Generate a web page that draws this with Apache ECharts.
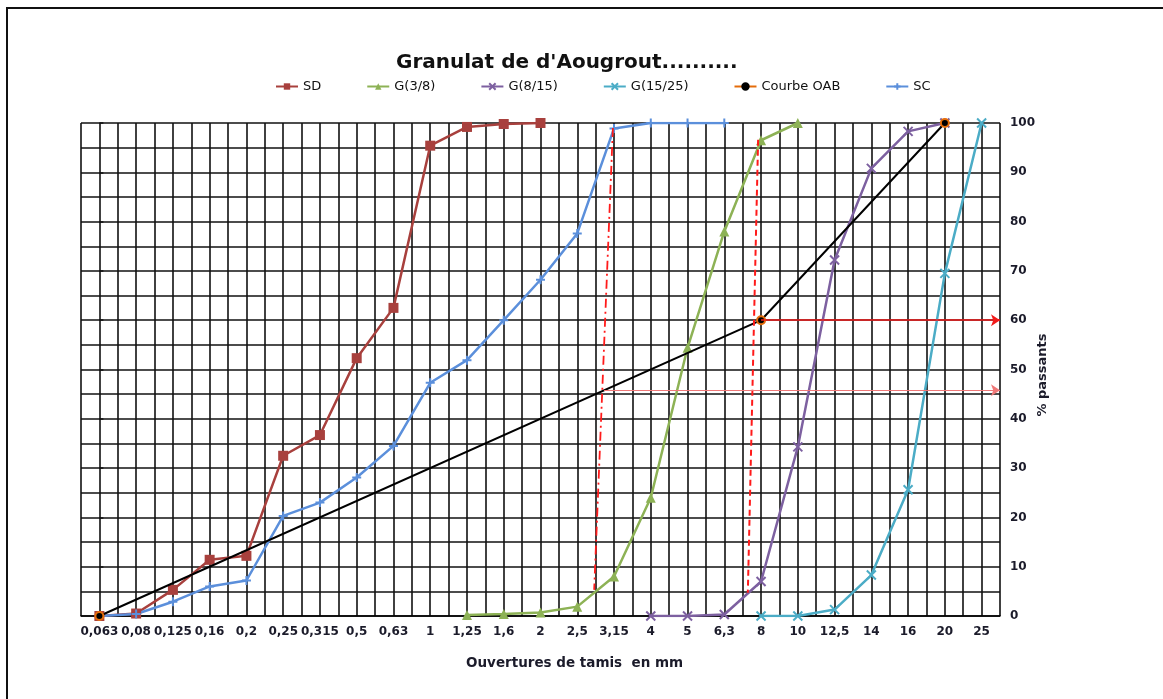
<!DOCTYPE html>
<html>
<head>
<meta charset="utf-8">
<script src="https://cdn.jsdelivr.net/npm/echarts@6/dist/echarts.min.js"></script>
<style>
  html, body { margin: 0; padding: 0; background: #fff; }
  #chart { width: 1163px; height: 699px; }
</style>
</head>
<body>
<div id="chart"></div>
<script>
// Sieve openings (mm), one category per sieve
const sieves = ['0,063','0,08','0,125','0,16','0,2','0,25','0,315','0,5','0,63','1','1,25','1,6','2','2,5','3,15','4','5','6,3','8','10','12,5','14','16','20','25'];

// % passing for each aggregate, aligned on the sieves above
const sd     = [0, 0.5, 5.3, 11.4, 12.2, 32.5, 36.7, 52.3, 62.5, 95.4, 99.2, 99.8, 100, null, null, null, null, null, null, null, null, null, null, null, null];
const g38    = [null, null, null, null, null, null, null, null, null, null, 0.2, 0.4, 0.7, 1.9, 8.0, 24.0, 54.4, 78.0, 96.5, 100, null, null, null, null, null];
const g815   = [null, null, null, null, null, null, null, null, null, null, null, null, null, null, null, 0, 0, 0.3, 7.0, 34.3, 72.2, 90.8, 98.3, 100, null];
const g1525  = [null, null, null, null, null, null, null, null, null, null, null, null, null, null, null, null, null, null, 0, 0, 1.3, 8.3, 25.6, 69.5, 100];
const courbeOAB = [0, null, null, null, null, null, null, null, null, null, null, null, null, null, null, null, null, null, 60, null, null, null, null, 100, null];
const sc     = [0, 0.4, 2.9, 6.0, 7.2, 20.3, 23.0, 28.1, 34.5, 47.3, 51.9, 60.0, 68.2, 77.6, 98.9, 100, 100, 100, null, null, null, null, null, null, null];

// Construction lines, in sieve-index units (x) and % passing (y)
const dashDotLine = [[13.97, 99], [13.46, 5.3]];
const dashedLine  = [[17.92, 96.6], [17.64, 4.7]];
const arrow60     = [[18, 60], [24.5, 60]];
const arrow46     = [[13.73, 45.8], [24.5, 45.8]];

const yTicks = [0, 100, 10];

const FONT = '"DejaVu Sans", Verdana, sans-serif';
const xPath = 'path://M0,0L10,10M10,0L0,10';
const plusPath = 'path://M5,0L5,10M0,5L10,5';

function curve(name, data, color, symbol, size, stroke) {
  return {
    name, type: 'line', data, xAxisIndex: 0, yAxisIndex: 0,
    symbol, symbolSize: size, showAllSymbol: true,
    lineStyle: { color, width: 2.5 },
    itemStyle: stroke ? { color, borderColor: color, borderWidth: 2 } : { color },
    z: 5
  };
}

const chart = echarts.init(document.getElementById('chart'), null, { renderer: 'canvas' });

chart.setOption({
  animation: false,
  backgroundColor: '#fff',
  title: {
    text: "Granulat de d'Aougrout..........",
    left: 391, top: 48,
    textStyle: { fontFamily: FONT, fontSize: 20, fontWeight: 'bold', color: '#111' }
  },
  legend: {
    left: 270, top: 75,
    itemWidth: 22, itemHeight: 8, itemGap: 45,
    textStyle: { fontFamily: FONT, fontSize: 13, color: '#111' },
    data: [
      'SD', 'G(3/8)', 'G(8/15)', 'G(15/25)',
      { name: 'Courbe OAB', lineStyle: { color: '#E46C0A' }, itemStyle: { color: '#000', borderColor: '#000' } },
      'SC'
    ]
  },
  grid: { left: 81, right: 163, top: 123, bottom: 83 },
  xAxis: [
    {
      type: 'category', data: sieves, boundaryGap: true, position: 'bottom',
      axisLine: { show: true, lineStyle: { color: '#000', width: 1.5 } },
      axisTick: { show: false },
      splitLine: { show: false },
      axisLabel: { interval: 0, margin: 10, fontFamily: FONT, fontSize: 12, fontWeight: 'bold', color: '#1b1b2a' }
    },
    {
      type: 'value', min: -0.5, max: 24.5, interval: 0.5, position: 'bottom',
      axisLine: { show: false }, axisTick: { show: false }, axisLabel: { show: false },
      splitLine: { show: true, lineStyle: { color: '#111', width: 1.6 } }
    }
  ],
  yAxis: {
    type: 'value', position: 'right',
    min: yTicks[0], max: yTicks[1], interval: yTicks[2],
    axisLine: { show: false },
    axisTick: { show: true, length: 4, lineStyle: { color: '#111', width: 1.5 } },
    axisLabel: { margin: 10, fontFamily: FONT, fontSize: 12, fontWeight: 'bold', color: '#1b1b2a' },
    splitLine: { show: true, lineStyle: { color: '#111', width: 1.6 } },
    minorTick: { show: false, splitNumber: 2 },
    minorSplitLine: { show: true, lineStyle: { color: '#111', width: 1.6 } }
  },
  graphic: [
    { type: 'rect', shape: { x: 7, y: 8, width: 1300, height: 900 }, style: { fill: 'none', stroke: '#111', lineWidth: 2 }, silent: true, z: 100 },
    { type: 'text', left: 466, top: 656, style: { text: 'Ouvertures de tamis  en mm', fontFamily: FONT, fontSize: 13.5, fontWeight: 'bold', fill: '#1b1b2a' } },
    { type: 'text', x: 1043, y: 375, rotation: Math.PI / 2,
      style: { text: '% passants', align: 'center', verticalAlign: 'middle', fontFamily: FONT, fontSize: 13, fontWeight: 'bold', fill: '#1b1b2a' } }
  ],
  series: [
    curve('SD', sd, '#A8403D', 'rect', 10, false),
    curve('G(3/8)', g38, '#8DB255', 'triangle', 10, false),
    curve('G(8/15)', g815, '#7D60A0', xPath, 9, true),
    curve('G(15/25)', g1525, '#4BACC6', xPath, 9, true),
    {
      name: 'Courbe OAB', type: 'line', data: courbeOAB, connectNulls: true,
      xAxisIndex: 0, yAxisIndex: 0,
      symbol: 'circle', symbolSize: 8,
      lineStyle: { color: '#000', width: 2 },
      itemStyle: { color: '#000', borderColor: '#E46C0A', borderWidth: 2 },
      z: 6
    },
    curve('SC', sc, '#5B8FDB', plusPath, 9, true),
    {
      type: 'lines', coordinateSystem: 'cartesian2d', xAxisIndex: 1, yAxisIndex: 0, z: 7,
      data: [
        { coords: dashDotLine, lineStyle: { color: '#FF1A1A', width: 1.8, opacity: 1, type: [9, 4, 2, 4] } },
        { coords: dashedLine, lineStyle: { color: '#FF1A1A', width: 2, opacity: 1, type: [6, 4] } }
      ],
      symbol: 'none'
    },
    {
      type: 'lines', coordinateSystem: 'cartesian2d', xAxisIndex: 1, yAxisIndex: 0, z: 7,
      symbol: ['none', 'arrow'], symbolSize: 9,
      data: [
        { coords: arrow60, lineStyle: { color: '#F21B1B', width: 1.5, opacity: 1 } },
        { coords: arrow46, lineStyle: { color: '#F07878', width: 1.2, opacity: 1 } }
      ]
    }
  ]
});
</script>
</body>
</html>
